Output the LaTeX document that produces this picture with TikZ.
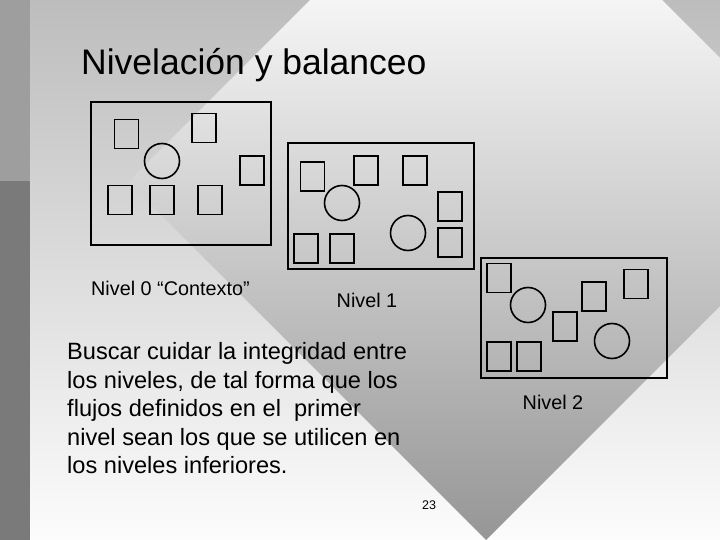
\documentclass[tikz,border=0pt]{standalone}
\usepackage{fontspec}
\setmainfont{Liberation Sans}
\definecolor{bgtop}{RGB}{189,189,189}
\definecolor{bgbot}{RGB}{252,252,252}
\definecolor{dmtop}{RGB}{245,245,245}
\definecolor{dmbot}{RGB}{150,150,150}
\definecolor{striptop}{RGB}{158,158,158}
\definecolor{stripbot}{RGB}{122,122,122}
\begin{document}
\begin{tikzpicture}[x=1pt,y=-1pt,
  frame/.style={draw=black,line width=1.8pt,fill=none},
  sq/.style={draw=black,line width=1.6pt,minimum width=24pt,minimum height=29pt,inner sep=0pt,outer sep=0pt},
  circ/.style={draw=black,line width=1.6pt,circle,minimum size=35pt,inner sep=0pt},
  lbl/.style={font=\fontsize{19.8}{23}\selectfont,inner sep=0pt}]
\useasboundingbox (0,0) rectangle (720,540);
% background
\shade[top color=bgtop,bottom color=bgbot] (30,0) rectangle (720,540);
\begin{scope}
\clip (486,-176) -- (844,182) -- (486,540) -- (128,182) -- cycle;
\shade[top color=dmtop,bottom color=dmbot] (30,0) rectangle (720,540);
\end{scope}
\fill[striptop] (0,0) rectangle (30,181);
\fill[stripbot] (0,181) rectangle (30,540);
% title
\node[anchor=base west,inner sep=0pt,font=\fontsize{35.5}{40}\selectfont] (title) at (81,75) {Nivelación y balanceo};
% Box 0
\node[frame,minimum width=180pt,minimum height=143pt,inner sep=0pt] (b0) at (181,173.5) {};
\node[sq] (b0a) at (126.5,134) {};
\node[sq] (b0b) at (204,128) {};
\node[sq] (b0c) at (252,170.5) {};
\node[sq] (b0d) at (120,200) {};
\node[sq] (b0e) at (162,200) {};
\node[sq] (b0f) at (210,200) {};
\node[circ] (b0o) at (162,161) {};
% Box 1
\node[frame,minimum width=186pt,minimum height=126pt,inner sep=0pt] (b1) at (381,206) {};
\node[sq] (b1a) at (312.5,176.5) {};
\node[sq] (b1b) at (366,170.5) {};
\node[sq] (b1c) at (415,170.5) {};
\node[sq] (b1d) at (450,206.5) {};
\node[sq] (b1e) at (450,242.5) {};
\node[sq] (b1f) at (306,248.5) {};
\node[sq] (b1g) at (342,248.5) {};
\node[circ] (b1o) at (342,203) {};
\node[circ] (b1p) at (408,233) {};
% Box 2
\node[frame,minimum width=186pt,minimum height=120pt,inner sep=0pt] (b2) at (574,318) {};
\node[sq] (b2a) at (499,278) {};
\node[sq] (b2b) at (594,296.5) {};
\node[sq] (b2c) at (636,284) {};
\node[sq] (b2d) at (565,326.5) {};
\node[sq] (b2e) at (499,356.5) {};
\node[sq] (b2f) at (529,356.5) {};
\node[circ] (b2o) at (528,305) {};
\node[circ] (b2p) at (612,341) {};
% labels
\node[lbl,anchor=base west] (l0) at (91,295) {Nivel 0 “Contexto”};
\node[lbl,anchor=base] (l1) at (367,307) {Nivel 1};
\node[lbl,anchor=base] (l2) at (553,409) {Nivel 2};
% paragraph
\node[anchor=north west,align=left,inner sep=0pt,font=\fontsize{23.6}{28.4}\selectfont] (txt) at (67,342.5) {Buscar cuidar la integridad entre\\los niveles, de tal forma que los\\flujos definidos en el\ \ primer\\nivel sean los que se utilicen en\\los niveles inferiores.};
\node[anchor=base,inner sep=0pt,font=\fontsize{12.5}{14}\selectfont] (pg) at (429,509) {23};
\end{tikzpicture}
\end{document}
